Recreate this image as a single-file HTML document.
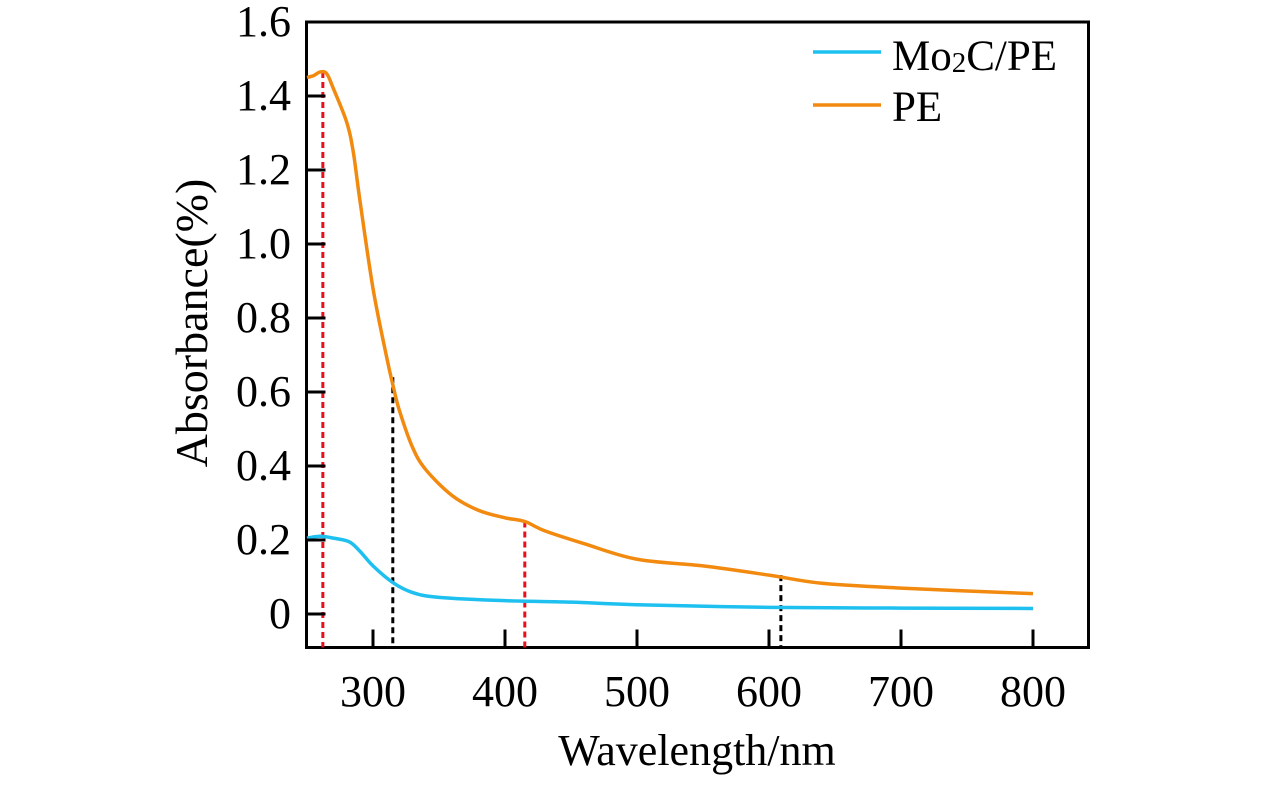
<!DOCTYPE html>
<html><head><meta charset="utf-8"><style>
html,body{margin:0;padding:0;background:#fff;}
svg{display:block;}
text{font-family:"Liberation Serif",serif;fill:#000;}
</style></head><body>
<svg id="chart" width="1276" height="787">
<rect x="306.5" y="22" width="782" height="625.5" fill="none" stroke="#000" stroke-width="3"/>
<g id="marks"></g>
<g id="axes"></g>
<g>
<line x1="813" y1="52" x2="881" y2="52" stroke="#1ec0f0" stroke-width="3.5"/>
<text x="892" y="70" font-size="43">Mo<tspan font-size="29" dy="2">2</tspan><tspan dy="-2">C/PE</tspan></text>
<line x1="813" y1="105" x2="881" y2="105" stroke="#f28a10" stroke-width="3.5"/>
<text x="892" y="121" font-size="43">PE</text>
</g>
<text x="697" y="765" font-size="44" text-anchor="middle">Wavelength/nm</text>
<text transform="translate(207,323) rotate(-90)" font-size="46" text-anchor="middle">Absorbance(%)</text>
</svg>
<script>
const peWl=[250,255,260,265,270,280,285,290,300,310,315,320,330,340,360,380,400,415,430,460,500,550,600,640,700,800];
const peAbs=[1.45,1.455,1.465,1.46,1.42,1.33,1.25,1.12,0.88,0.7,0.62,0.55,0.45,0.39,0.32,0.28,0.26,0.25,0.225,0.19,0.148,0.13,0.105,0.083,0.07,0.055];
const moWl=[250,260,270,282,290,300,315,330,350,400,450,500,600,700,800];
const moAbs=[0.205,0.21,0.205,0.195,0.17,0.13,0.085,0.058,0.045,0.036,0.032,0.025,0.018,0.016,0.015];
const xTicks=[300,400,500,600,700,800];
const yTicks=[0,0.2,0.4,0.6,0.8,1.0,1.2,1.4,1.6];
const yTickLabels=["0","0.2","0.4","0.6","0.8","1.0","1.2","1.4","1.6"];
const refWl=[262,315,415,609];
const refAbs=[1.465,0.64,0.25,0.105];
const refColors=["#e8101c","#000","#e8101c","#000"];
const NS="http://www.w3.org/2000/svg";
const xs=w=>373+(w-300)*1.32;
const ys=v=>614-v*370;
const bottom=647.5,left=306.5;
const marks=document.getElementById('marks'),axes=document.getElementById('axes');
function mk(t,a,p){const e=document.createElementNS(NS,t);for(const k in a)e.setAttribute(k,a[k]);p.appendChild(e);return e;}
function smooth(px){let d=`M${px[0][0]},${px[0][1]}`;for(let i=0;i<px.length-1;i++){const p0=px[Math.max(0,i-1)],p1=px[i],p2=px[i+1],p3=px[Math.min(px.length-1,i+2)];d+=` C${p1[0]+(p2[0]-p0[0])/6},${p1[1]+(p2[1]-p0[1])/6} ${p2[0]-(p3[0]-p1[0])/6},${p2[1]-(p3[1]-p1[1])/6} ${p2[0]},${p2[1]}`;}return d;}
refWl.forEach((w,i)=>{
const l=mk('line',{x1:xs(w),x2:xs(w),y1:ys(refAbs[i]),y2:bottom,stroke:refColors[i],'stroke-width':3,'stroke-dasharray':'6,4'},marks);


});
const pe=mk('path',{d:smooth(peWl.map((w,i)=>[xs(w),ys(peAbs[i])])),fill:'none',stroke:'#f28a10','stroke-width':3.5},marks);


const mo=mk('path',{d:smooth(moWl.map((w,i)=>[xs(w),ys(moAbs[i])])),fill:'none',stroke:'#1ec0f0','stroke-width':3.5},marks);


xTicks.forEach(t=>{
const l=mk('line',{x1:xs(t),x2:xs(t),y1:bottom,y2:bottom-18,stroke:'#000','stroke-width':3},axes);


const tx=mk('text',{x:xs(t),y:706,'font-size':44,'text-anchor':'middle'},axes);
tx.textContent=t;


});
yTicks.forEach((t,i)=>{
if(i<yTicks.length-1){const l=mk('line',{x1:left,x2:left+19,y1:ys(t),y2:ys(t),stroke:'#000','stroke-width':3},axes);

}
const tx=mk('text',{x:291,y:ys(t)+14,'font-size':44,'text-anchor':'end'},axes);
tx.textContent=yTickLabels[i];


});
</script>
</body></html>
